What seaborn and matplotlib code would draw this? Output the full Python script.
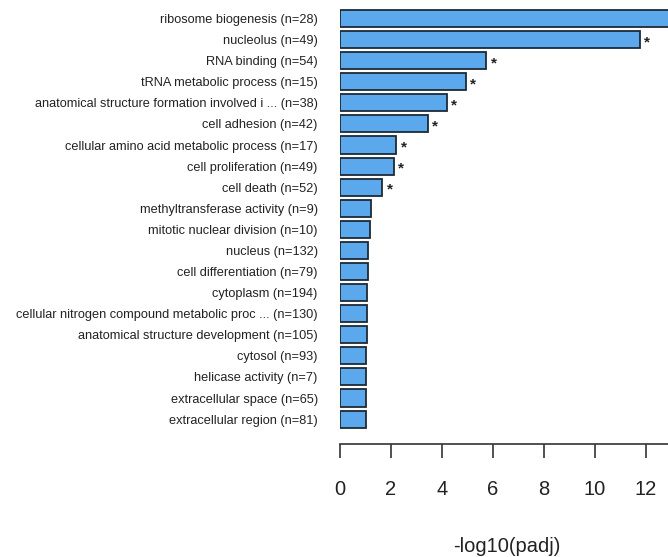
import matplotlib
matplotlib.use("Agg")
import matplotlib.pyplot as plt
import seaborn as sns
import pandas as pd

terms = [
    "ribosome biogenesis (n=28)",
    "nucleolus (n=49)",
    "RNA binding (n=54)",
    "tRNA metabolic process (n=15)",
    "anatomical structure formation involved i ... (n=38)",
    "cell adhesion (n=42)",
    "cellular amino acid metabolic process (n=17)",
    "cell proliferation (n=49)",
    "cell death (n=52)",
    "methyltransferase activity (n=9)",
    "mitotic nuclear division (n=10)",
    "nucleus (n=132)",
    "cell differentiation (n=79)",
    "cytoplasm (n=194)",
    "cellular nitrogen compound metabolic proc ... (n=130)",
    "anatomical structure development (n=105)",
    "cytosol (n=93)",
    "helicase activity (n=7)",
    "extracellular space (n=65)",
    "extracellular region (n=81)",
]
neg_log10_padj = [13.3, 11.76, 5.74, 4.95, 4.20, 3.46, 2.21, 2.12, 1.66,
                  1.20, 1.19, 1.10, 1.09, 1.06, 1.06, 1.05, 1.03, 1.03, 1.03, 1.03]
significant = [True] * 9 + [False] * 11
x_ticks = [0, 2, 4, 6, 8, 10, 12]

df = pd.DataFrame({"term": terms, "score": neg_log10_padj, "sig": significant})

sns.set_style("white")
plt.rcParams["font.family"] = ["Liberation Sans", "DejaVu Sans"]

W, H = 668, 557
fig = plt.figure(figsize=(W / 100, H / 100), dpi=100)
ax = fig.add_axes([340 / W, (H - 444) / H, 328 / W, 444 / H])

sns.barplot(data=df, x="score", y="term", orient="h", order=terms,
            color="#5BA9EC", saturation=1, width=0.81,
            edgecolor="#1E2A36", linewidth=1.3, ax=ax)

# asterisk after each significant term
for i, (v, s) in enumerate(zip(neg_log10_padj, significant)):
    if s:
        ax.annotate("*", xy=(v, i), xytext=(3, -2), textcoords="offset points",
                    ha="left", va="center", fontsize=11, fontweight="bold",
                    color="#222222", annotation_clip=True)

ax.set_xlim(0, 328 / 25.5)
ax.set_ylim(20.18, -0.878)

for side in ("top", "right", "left"):
    ax.spines[side].set_visible(False)
ax.spines["bottom"].set_color("#333333")
ax.spines["bottom"].set_linewidth(1.2)

ax.set_xticks(x_ticks)
ax.set_xticklabels([str(t) for t in x_ticks])
ax.tick_params(axis="x", direction="out", length=10, width=1.2, color="#333333",
               pad=16, labelsize=14.5, labelcolor="#222222", bottom=True)
ax.tick_params(axis="y", length=0, pad=16, labelsize=9.2, labelcolor="#222222")

ax.set_ylabel("")
ax.set_xlabel("-log10(padj)", fontsize=14.5, color="#222222")
ax.xaxis.set_label_coords(0.51, -0.21)

fig.savefig("out.png", dpi=100)
